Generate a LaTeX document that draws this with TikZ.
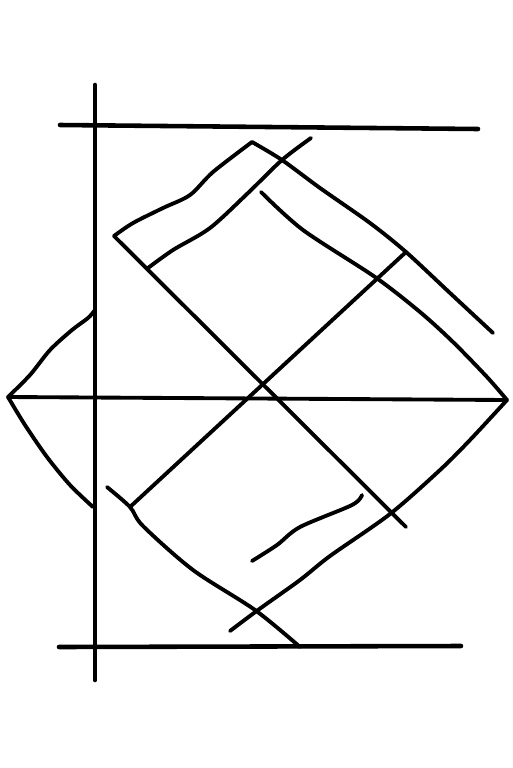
\documentclass[tikz,border=0pt]{standalone}
\begin{document}
\begin{tikzpicture}[x=0.02cm,y=-0.02cm,line width=2.2pt,line cap=round,line join=round]
            \useasboundingbox (0,0) rectangle (512,768);
            \coordinate (V) at (95,85);
            \coordinate (W) at (95,680);
            \coordinate (A) at (60,125);
            \coordinate (B) at (478,129);
            \coordinate (L) at (8,397);
            \coordinate (R) at (507,400);
            \coordinate (C) at (59,647);
            \coordinate (D) at (461,646);
            
            \coordinate (P) at (95,310);
            \coordinate (Q) at (93,507);
            
            \coordinate (T) at (252,142);
            \coordinate (S) at (114,236);
            \coordinate (U) at (493,333);
            \coordinate (E) at (406,252);
            \coordinate (F) at (406,527);
            \coordinate (G) at (230,631);
            
            \coordinate (H) at (311,138);
            \coordinate (K) at (148,268);
            \coordinate (M) at (261,192);
            \coordinate (N) at (130,507);
            \coordinate (X) at (107,487);
            \coordinate (Y) at (300,647);
            \coordinate (Z1) at (362,495);
            \coordinate (Z2) at (252,561);
            
            \draw[line width=2.6pt] (V) -- (W);
            \draw[line width=2.6pt] (A) -- (B);
            \draw (L) -- (R);
            \draw[line width=2.6pt] (C) -- (D);
            \draw plot[smooth] coordinates {(P) (88,318) (72,330) (50,350) (30,375) (L)};
            \draw plot[smooth] coordinates {(L) (25,425) (47,457) (70,485) (Q)};
            \draw plot[smooth,tension=0.5] coordinates {(S) (133,223) (163,208) (190,195) (213,172) (T)};
            \draw plot[smooth] coordinates {(T) (282,160) (320,188) (370,223) (E) (450,293) (U)};
            \draw (S) -- (F);
            \draw plot[smooth,tension=0.5] coordinates {(H) (282,160) (248,193) (210,228) (173,250) (K)};
            \draw plot[smooth] coordinates {(M) (303,230) (375,277) (420,312) (453,342) (487,377) (R)};
            \draw (E) -- (N);
            \draw plot[smooth,tension=0.5] coordinates {(X) (N) (143,526) (193,570) (255,610) (Y)};
            \draw plot[smooth] coordinates {(R) (470,440) (440,470) (390,514) (330,556) (300,580) (258,610) (G)};
            \draw plot[smooth] coordinates {(Z1) (352,505) (300,527) (277,545) (Z2)};
          \end{tikzpicture}
\end{document}
